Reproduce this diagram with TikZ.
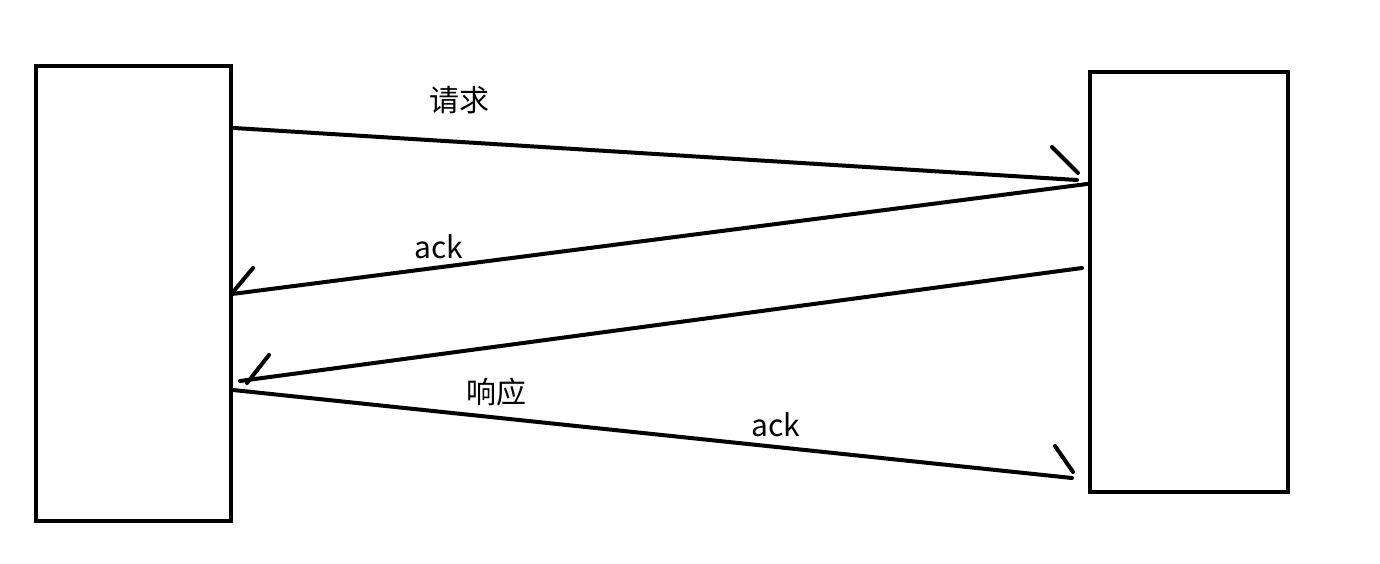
\documentclass[tikz,border=0pt]{standalone}
\usepackage{fontspec}
\setmainfont{Noto Sans CJK SC}
\begin{document}
\begin{tikzpicture}[x=1pt,y=-1pt,
  wire/.style={line width=4pt,line cap=round},
  lbl/.style={font=\fontsize{30}{36}\selectfont,inner sep=0pt}]
\useasboundingbox (0,0) rectangle (1380,564);
% boxes
\node[draw=black,line width=4pt,inner sep=0pt,minimum width=195pt,minimum height=455pt] (L) at (133.5,293.5) {};
\node[draw=black,line width=4pt,inner sep=0pt,minimum width=198pt,minimum height=420pt] (R) at (1189,282) {};
% endpoints
\coordinate (a1) at (234,128);  \coordinate (b1) at (1077,180);
\coordinate (a2) at (1087,184); \coordinate (b2) at (232,294);
\coordinate (a3) at (1082,268); \coordinate (b3) at (240,381);
\coordinate (a4) at (233,390);  \coordinate (b4) at (1072,478);
\coordinate (h1) at (1052,147); \coordinate (t1) at (1078,173);
\coordinate (h2) at (253,268);  \coordinate (t2) at (233,292);
\coordinate (h3) at (269,355);  \coordinate (t3) at (247,383);
\coordinate (h4) at (1055,446); \coordinate (t4) at (1073,472);
\draw[wire] (a1) -- (b1);
\draw[wire] (h1) -- (t1);
\draw[wire] (a2) -- (b2);
\draw[wire] (h2) -- (t2);
\draw[wire] (a3) -- (b3);
\draw[wire] (h3) -- (t3);
\draw[wire] (a4) -- (b4);
\draw[wire] (h4) -- (t4);
% labels
\node[lbl] (q) at (459,100) {请求};
\node[lbl] (k1) at (439,247) {ack};
\node[lbl] (x) at (496,392) {响应};
\node[lbl] (k2) at (776,425) {ack};
\end{tikzpicture}
\end{document}
